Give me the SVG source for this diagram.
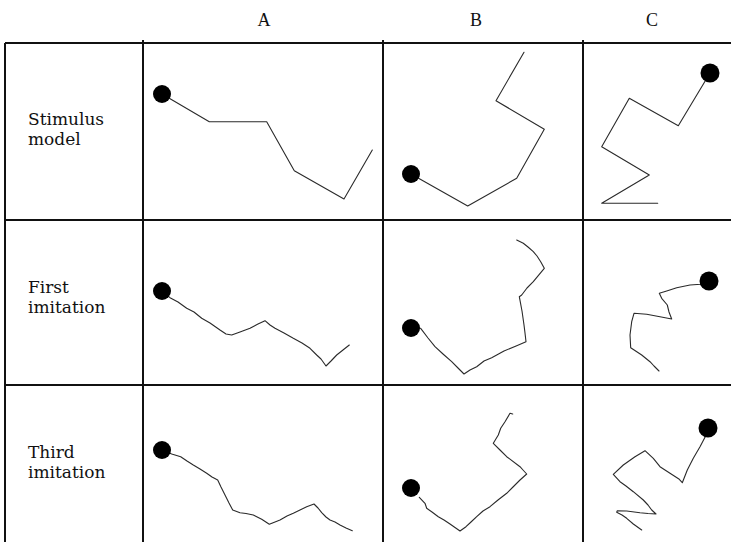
<svg xmlns="http://www.w3.org/2000/svg" width="731" height="542" viewBox="0 0 731 542">
<style>
.grid{stroke:#111;stroke-width:2;fill:none}
.trace{stroke:#2a2a2a;stroke-width:1.1;fill:none;stroke-linejoin:round;stroke-linecap:round}
.dot{fill:#000}
.hdr{font-family:"Liberation Serif","DejaVu Serif",serif;font-size:18px;fill:#111;text-anchor:middle}
.lbl{font-family:"DejaVu Serif","Liberation Serif",serif;font-size:17px;fill:#111}
</style>
<rect width="731" height="542" fill="#fff"/>
<g id="table" class="grid">
<line x1="5" y1="43" x2="731" y2="43"/>
<line x1="5" y1="220" x2="731" y2="220"/>
<line x1="5" y1="385" x2="731" y2="385"/>
<line x1="5" y1="43" x2="5" y2="542"/>
<line x1="143" y1="40" x2="143" y2="542"/>
<line x1="383" y1="40" x2="383" y2="542"/>
<line x1="583" y1="40" x2="583" y2="542"/>
</g>
<g id="headers">
<text class="hdr" x="264" y="26">A</text>
<text class="hdr" x="476" y="26">B</text>
<text class="hdr" x="652" y="26">C</text>
</g>
<g id="row-labels">
<text class="lbl" x="28" y="125">Stimulus</text>
<text class="lbl" x="28" y="145">model</text>
<text class="lbl" x="28" y="293">First</text>
<text class="lbl" x="28" y="313">imitation</text>
<text class="lbl" x="28" y="458">Third</text>
<text class="lbl" x="28" y="478">imitation</text>
</g>
<g id="stimulus-A">
<polyline class="trace" points="162,94 209.3,121.7 266.7,121.7 294.3,170.7 344,199 372.3,150"/>
<circle class="dot" cx="162" cy="94" r="9"/>
</g>
<g id="stimulus-B">
<polyline class="trace" points="411,174 467.7,206 516.7,178.3 544.3,129.3 496,100.7 524,52.3"/>
<circle class="dot" cx="411" cy="174" r="9"/>
</g>
<g id="stimulus-C">
<polyline class="trace" points="710,73 678.3,125.7 629.3,98.3 601.7,146.7 649.3,175 601.7,203.3 657.7,203.3"/>
<circle class="dot" cx="710" cy="73" r="9.5"/>
</g>
<g id="first-A">
<polyline class="trace" points="162,291 170,297.7 178,302 186.7,308.3 194,312 201.7,318.3 210,323 220,330 226,334 231.7,335 240,332 250,328.3 258,324 265,320.7 270,325 275,328.3 284,333 293.3,338.3 302,343 310,348.3 316.7,355 321,359 326,366 331,361 336.7,355 343,350 349.3,345"/>
<circle class="dot" cx="162" cy="291" r="9"/>
</g>
<g id="first-B">
<polyline class="trace" points="411,328 420.7,328.3 428,338 435,346.7 443,354 451.7,361.7 458,368 464,374 470,370 476.7,366.7 484,361 491.7,357.7 504,351 516.7,345.7 526,341.7 525,333 524,325 522,311 519.3,296.7 521.7,295 527,288 533.3,281.7 539.3,274.3 544.3,268.3 540.7,261.7 537,256 533.3,251.7 528,247 523.3,243.3 516.7,240"/>
<circle class="dot" cx="411" cy="328" r="9"/>
</g>
<g id="first-C">
<polyline class="trace" points="709,281 700.7,284.3 690,285 676.7,287.7 666.7,291 659.3,293.3 661.7,298.3 667.3,305 669,312 671.7,319 660,316.7 646.7,314.3 634,313.3 631.7,321.7 630,335 630.7,347.7 641.7,355 650,361.7 654,366 659,371"/>
<circle class="dot" cx="709" cy="281" r="9.5"/>
</g>
<g id="third-A">
<polyline class="trace" points="162,450 171.7,454 180.7,456.7 187,461 193.3,465 200,469 206.7,473.3 212,477 217.7,480 221,487 225,495 229,503 232.7,510 240,512.7 246,513.5 253.3,515 261.7,519.3 269.3,524.3 275,522 280,520 287,516 293.3,513.3 300,510 306.7,506.7 314,504 318,508 321.7,512.7 326,517 330,520 335,522 340,525 346,528 352.3,530.7"/>
<circle class="dot" cx="162" cy="450" r="9"/>
</g>
<g id="third-B">
<polyline class="trace" points="419.3,497.3 425,503.3 426.7,508.3 432,512 438.3,516.7 444,520 450,524 455,527.5 460,531 466,526.7 471,522 476.7,516.7 483,511 490,506.7 498,500 506.7,493.3 513,487 520,480 526.7,474 523,470 520,466.7 506.7,456.7 500,450 493.3,443.3 498.3,435 500.7,428.3 505,421.7 510,413.3 512.7,414"/>
<circle class="dot" cx="411" cy="488" r="9"/>
</g>
<g id="third-C">
<polyline class="trace" points="708,428 705,437.3 700,446.7 693.3,458.3 687.3,470 682.3,482.7 679.3,479.3 670,473.3 660,466.7 653.3,458.3 645,450.7 635,456.7 623.3,465 613.3,474.3 620,481.7 626,486 633.3,491.7 643.3,500 648,505 651.7,510 656,514 648,513.5 640,512.7 626.7,511 617.3,510.7 616.7,512.3 622,515 626.7,518.3 633.3,524 641.7,530"/>
<circle class="dot" cx="708" cy="428" r="9.5"/>
</g>
</svg>
